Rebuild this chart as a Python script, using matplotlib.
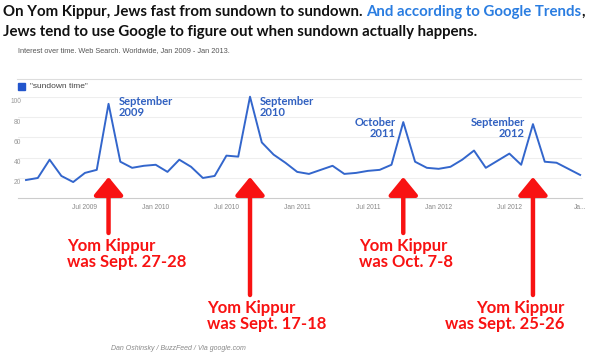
import matplotlib
matplotlib.use("Agg")
import matplotlib.pyplot as plt

plt.rcParams['font.family'] = ['Lato', 'DejaVu Sans']

# monthly interest for "sundown time", Feb 2009 .. Jan 2013
interest = [18, 20, 38, 22, 16, 25, 28, 93, 36, 30, 32, 33,
            26, 38, 31, 20, 22, 42, 41, 100, 55, 43, 35, 26,
            24, 28, 32, 24, 25, 27, 28, 33, 75, 36, 30, 29,
            31, 38, 47, 30, 37, 44, 33, 73, 36, 35, 29, 23]
tick_pos = [5, 11, 17, 23, 29, 35, 41, 47]
tick_labels = ["Jul 2009", "Jan 2010", "Jul 2010", "Jan 2011",
               "Jul 2011", "Jan 2012", "Jul 2012", "Ja..."]
grid_vals = [20, 40, 60, 80, 100]
peak_idx = [7, 19, 32, 43]
peak_labels = ["September\n2009", "September\n2010", "October\n2011", "September\n2012"]
yk_labels = ["Yom Kippur\nwas Sept. 27-28", "Yom Kippur\nwas Sept. 17-18",
             "Yom Kippur\nwas Oct. 7-8", "Yom Kippur\nwas Sept. 25-26"]

W, H = 600, 355
BLUE = '#3366cc'
RED = '#f81212'

def fx(x):
    return x / W

def fy(y):
    return 1 - y / H

fig = plt.figure(figsize=(6, 3.55), dpi=100)
fig.patch.set_facecolor('white')

# title, line 1 in two colours
r = fig.canvas.get_renderer()
parts = [("On Yom Kippur, Jews fast from sundown to sundown. ", '#111111'),
         ("And according to Google Trends", '#2a7de1'),
         (",", '#111111')]
xpos = fx(3)
for txt, col in parts:
    t = fig.text(xpos, fy(12), txt, color=col, fontsize=10.85, fontweight='bold', va='center')
    bb = t.get_window_extent(r)
    xpos = bb.x1 / W
fig.text(fx(3), fy(32), "Jews tend to use Google to figure out when sundown actually happens.",
         color='#111111', fontsize=10.85, fontweight='bold', va='center')

fig.text(fx(18), fy(51), "Interest over time. Web Search. Worldwide, Jan 2009 - Jan 2013.",
         fontsize=5.3, color='#555555', va='center', family=['Liberation Sans', 'DejaVu Sans'])
fig.add_artist(plt.Line2D([fx(17), fx(581)], [fy(79), fy(79)], color='#dddddd', lw=0.8))

# legend
fig.add_artist(plt.Rectangle((fx(18), fy(89.5)), 7 / W, 7 / H, color='#2255cc'))
fig.text(fx(30), fy(86), '"sundown time"', fontsize=6, color='#444444', va='center',
         family=['Liberation Sans', 'DejaVu Sans'])

ax = fig.add_axes([fx(18), fy(198.3), (582 - 18) / W, (198.3 - 96.7) / H])
ax.plot(range(len(interest)), interest, color=BLUE, lw=1.4, clip_on=False, zorder=3)
ax.set_xlim(-0.68, 47.16)
ax.set_ylim(0, 100)
for s in ['top', 'left', 'right']:
    ax.spines[s].set_visible(False)
ax.spines['bottom'].set_color('#cccccc')
ax.set_yticks(grid_vals)
ax.yaxis.grid(True, color='#eeeeee', lw=0.8)
ax.tick_params(axis='y', length=0, labelleft=False)
ax.set_xticks(tick_pos)
ax.set_xticklabels(tick_labels, fontsize=4.8, color='#888888', family=['Liberation Sans', 'DejaVu Sans'])
ax.tick_params(axis='x', length=0, pad=4)
for v in grid_vals:
    ax.annotate(str(v), xy=(0, v), xycoords=('axes fraction', 'data'), xytext=(3, -5),
                textcoords='offset pixels', ha='right', va='center', fontsize=4.8,
                color='#999999', family=['Liberation Sans', 'DejaVu Sans'])

# peak labels
peak_pos = [(119, 107, 'left'), (260, 107, 'left'), (396, 128, 'right'), (525, 128, 'right')]
for lab, (px, py, ha) in zip(peak_labels, peak_pos):
    fig.text(fx(px), fy(py), lab, color='#3060c0', fontsize=8, fontweight='bold',
             ha=ha, va='center', multialignment=ha, linespacing=0.95)

# red arrows
arrow_bottom = [233, 295, 233, 295]
for i, yb in zip(peak_idx, arrow_bottom):
    ax.annotate('', xy=(i, 21), xycoords='data',
                xytext=(i, H - yb), textcoords=('data', 'figure pixels'),
                arrowprops=dict(arrowstyle='-|>,head_length=0.55,head_width=0.45',
                                mutation_scale=20, lw=3.2, color=RED,
                                shrinkA=0, shrinkB=0),
                annotation_clip=False)

# Yom Kippur labels
yk_pos = [(67, 254, 'left'), (207, 316, 'left'), (359, 254, 'left'), (564, 316, 'right')]
for lab, (px, py, ha) in zip(yk_labels, yk_pos):
    fig.text(fx(px), fy(py), lab, color=RED, fontsize=12, fontweight='bold',
             ha=ha, va='center', multialignment=ha, linespacing=1.0)

fig.text(fx(111), fy(348), "Dan Oshinsky / BuzzFeed / Via google.com", fontsize=5,
         color='#888888', style='italic', va='center', family=['Liberation Sans', 'DejaVu Sans'])

fig.savefig("out.png", dpi=100)
